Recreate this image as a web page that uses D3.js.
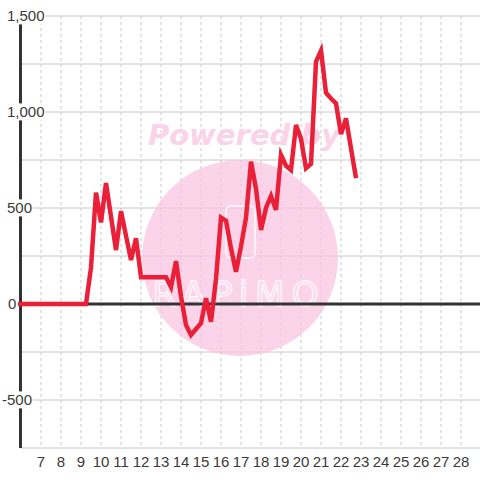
<!DOCTYPE html>
<html><head><meta charset="utf-8">
<script src="https://cdn.jsdelivr.net/npm/d3@7"></script>
<style>html,body{margin:0;padding:0;background:#fff;}svg{display:block;}</style>
</head><body>
<svg id="c" width="480" height="480"></svg>
<script>
const xTicks = [7,8,9,10,11,12,13,14,15,16,17,18,19,20,21,22,23,24,25,26,27,28];
const yTicks = [-500, 0, 500, 1000, 1500];
const yGrid = [-750,-500,-250,250,500,750,1000,1250,1500];
const xs = [5.85,6,7,8,9,9.25,9.5,9.75,10,10.25,10.5,10.75,11,11.25,11.5,11.75,12,12.25,12.5,12.75,13,13.25,13.5,13.75,14,14.25,14.5,14.75,15,15.25,15.5,15.75,16,16.25,16.5,16.75,17,17.25,17.5,17.75,18,18.25,18.5,18.75,19,19.25,19.5,19.75,20,20.25,20.5,20.75,21,21.25,21.5,21.75,22,22.25,22.5,22.75];
const ys = [0,0,0,0,0,0,190,580,425,630,455,281,483,355,229,342,139,139,139,139,139,139,88,223,40,-109,-161,-130,-100,30,-92,130,450,434,290,168,300,450,741,600,385,500,563,490,776,720,698,932,860,707,730,1262,1320,1100,1070,1045,885,967,810,655];

const svg = d3.select("#c");
const x = d3.scaleLinear().domain([6, 29]).range([21, 481]);
const y = d3.scaleLinear().domain([-750, 1500]).range([448, 16]);
const font = "'Liberation Sans', Arial, sans-serif";

svg.append("g").selectAll("line").data(xTicks).join("line")
  .attr("x1", d=>x(d)).attr("x2", d=>x(d)).attr("y1", y(1500)).attr("y2", y(-750))
  .attr("stroke", "#c8c8c8").attr("stroke-dasharray", "3,3").attr("stroke-width", 1);
svg.append("g").selectAll("line").data(yGrid).join("line")
  .attr("x1", x(6)).attr("x2", 480).attr("y1", d=>y(d)).attr("y2", d=>y(d))
  .attr("stroke", "#c8c8c8").attr("stroke-width", 1);

// watermark
const wm = svg.append("g");
wm.append("circle").attr("cx", 240).attr("cy", 258).attr("r", 98).attr("fill", "#f9c4e0").attr("opacity", 0.72);
wm.append("rect").attr("x", 226).attr("y", 206).attr("width", 29).attr("height", 52).attr("rx", 5)
  .attr("fill", "none").attr("stroke", "#fff").attr("stroke-width", 2).attr("opacity", 0.7);
wm.append("text").attr("x", 239).attr("y", 306).attr("text-anchor", "middle")
  .attr("font-family", "'DejaVu Sans', sans-serif").attr("font-size", 34)
  .attr("letter-spacing", 7).attr("fill", "none").attr("stroke", "#fff").attr("stroke-width", 1.8).attr("opacity", 0.7)
  .text("RAPiMO");
wm.append("text").attr("x", 244).attr("y", 145).attr("text-anchor", "middle")
  .attr("font-family", "'DejaVu Sans', sans-serif").attr("font-size", 29).attr("font-weight", "bold")
  .attr("font-style", "italic").attr("fill", "#fbd3e9").text("Powered by");

svg.append("line").attr("x1", 20.5).attr("x2", 20.5).attr("y1", y(1500)).attr("y2", y(-750))
  .attr("stroke", "#333").attr("stroke-width", 3);
svg.append("line").attr("x1", x(6)).attr("x2", 480).attr("y1", y(0)).attr("y2", y(0))
  .attr("stroke", "#333").attr("stroke-width", 3);

const line = d3.line().x((d,i)=>x(xs[i])).y((d,i)=>y(ys[i]));
svg.append("path").datum(ys).attr("d", line).attr("fill", "none")
  .attr("stroke", "#ea1f38").attr("stroke-width", 4.5).attr("stroke-linejoin", "miter");

const fmt = d => (d < 0 ? "-" : "") + d3.format(",")(Math.abs(d));
const yl = svg.append("g").selectAll("g").data(yTicks).join("g");
yl.each(function(d){
  const g = d3.select(this);
  const t = g.append("text").attr("x", d < 0 ? 2 : (d === 0 ? 8 : 7)).attr("y", y(d)).attr("dy", "0.36em")
    .attr("text-anchor", "start").attr("font-family", font).attr("font-size", 15).attr("fill", "#3a3a3a")
    .text(fmt(d));
  const b = t.node().getBBox();
  g.insert("rect", "text").attr("x", b.x - 1).attr("y", b.y).attr("width", b.width + 2).attr("height", b.height)
    .attr("fill", "#fff");
});

svg.append("g").selectAll("text").data(xTicks).join("text")
  .attr("x", d=>x(d)).attr("y", 467).attr("text-anchor", "middle")
  .attr("font-family", font).attr("font-size", 15).attr("fill", "#3a3a3a").text(d=>d);
</script>
</body></html>
